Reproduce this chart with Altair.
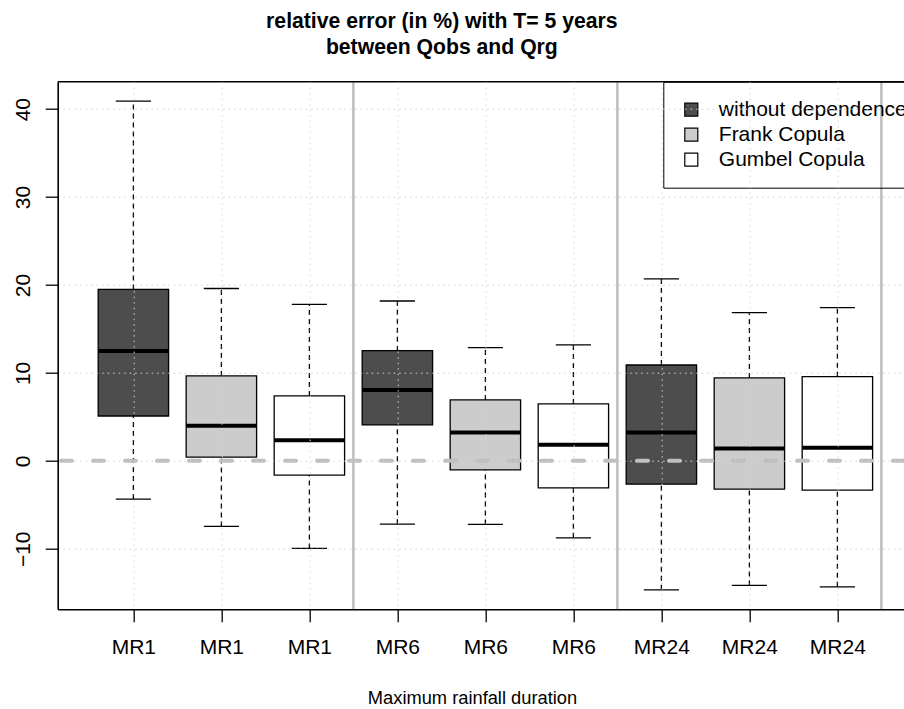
import altair as alt
import pandas as pd

# ---------------- data ----------------
positions = [1, 2, 3, 4, 5, 6, 7, 8, 9]
durations = ["MR1", "MR1", "MR1", "MR6", "MR6", "MR6", "MR24", "MR24", "MR24"]
methods = ["without dependence", "Frank Copula", "Gumbel Copula"] * 3
whisker_low = [-4.35, -7.46, -9.96, -7.20, -7.23, -8.75, -14.66, -14.17, -14.32]
q1 = [5.10, 0.42, -1.63, 4.09, -1.02, -3.07, -2.65, -3.22, -3.33]
median = [12.50, 3.98, 2.35, 8.07, 3.22, 1.82, 3.22, 1.40, 1.48]
q3 = [19.50, 9.66, 7.39, 12.53, 6.93, 6.48, 10.90, 9.43, 9.58]
whisker_high = [40.90, 19.60, 17.80, 18.18, 12.88, 13.18, 20.70, 16.86, 17.42]

y_ticks = [-10, 0, 10, 20, 30, 40]
separators = [3.5, 6.5, 9.5]
zero_line = [0]
method_names = ["without dependence", "Frank Copula", "Gumbel Copula"]
method_fills = ["#4D4D4D", "#CCCCCC", "#FFFFFF"]

title_lines = ["relative error (in %) with T= 5 years", "between Qobs and Qrg"]
x_title = "Maximum rainfall duration"

FONT = "Liberation Sans"

df = pd.DataFrame({
    "pos": positions, "duration": durations, "method": methods,
    "lo": whisker_low, "q1": q1, "med": median, "q3": q3, "hi": whisker_high,
})
sep_df = pd.DataFrame({"x": separators})
zero_df = pd.DataFrame({"y": zero_line})

label_expr = "[" + ",".join("'%s'" % d for d in durations) + "][datum.value - 1]"

xscale = alt.Scale(domain=[0.14, 9.757], nice=False, zero=False)
yscale = alt.Scale(domain=[-16.88, 43.12], nice=False, zero=False)

x_axis = alt.Axis(
    values=positions, labelExpr=label_expr, title=x_title,
    tickSize=12.5, tickWidth=1.3, tickColor="black",
    domainColor="black", domainWidth=1.6,
    labelFont=FONT, labelFontSize=21, labelColor="black",
    labelBaseline="alphabetic", labelPadding=31.5, labelFlush=False, labelOverlap=False,
    grid=True, gridColor="#D3D3D3", gridDash=[1.5, 4], gridWidth=1,
    titleFont=FONT, titleFontSize=18.3, titleFontWeight="normal", titleColor="black",
    titleBaseline="alphabetic", titleAlign="center", titleAnchor="middle",
    titleX=414.3, titleY=94, zindex=1,
)
y_axis = alt.Axis(
    values=y_ticks, title="",
    tickSize=12.5, tickWidth=1.3, tickColor="black",
    domainColor="black", domainWidth=1.6,
    labelFont=FONT, labelFontSize=21, labelColor="black",
    labelAngle=270, labelAlign="center", labelBaseline="alphabetic",
    labelPadding=15.5, labelFlush=False, labelOverlap=False,
    grid=True, gridColor="#D3D3D3", gridDash=[1.5, 4], gridWidth=1,
    zindex=1,
)


def X(field):
    return alt.X(field, type="quantitative", scale=xscale, axis=x_axis)


def Y(field):
    return alt.Y(field, type="quantitative", scale=yscale, axis=y_axis)


base = alt.Chart(df).transform_calculate(
    left="datum.pos - 0.4", right="datum.pos + 0.4",
    capl="datum.pos - 0.2", capr="datum.pos + 0.2",
)

boxes = base.mark_rect(stroke="black", strokeWidth=1.3).encode(
    x=X("left"), x2="right", y=Y("q1"), y2="q3",
    fill=alt.Fill("method:N",
                  scale=alt.Scale(domain=method_names, range=method_fills),
                  legend=alt.Legend(
                      title=None, orient="none", legendX=605.6, legendY=0,
                      padding=17.5, strokeColor="black",
                      symbolType="square", symbolSize=169,
                      symbolStrokeColor="black", symbolStrokeWidth=1.2,
                      labelFont=FONT, labelFontSize=21, labelColor="black",
                      labelOffset=17, rowPadding=3, labelLimit=400,
                  )),
)

whisk_hi = base.mark_rule(color="black", strokeWidth=1.3, strokeDash=[5, 4]).encode(
    x=X("pos"), y=Y("q3"), y2="hi")
whisk_lo = base.mark_rule(color="black", strokeWidth=1.3, strokeDash=[5, 4]).encode(
    x=X("pos"), y=Y("lo"), y2="q1")
cap_hi = base.mark_rule(color="black", strokeWidth=1.3).encode(
    x=X("capl"), x2="capr", y=Y("hi"))
cap_lo = base.mark_rule(color="black", strokeWidth=1.3).encode(
    x=X("capl"), x2="capr", y=Y("lo"))
medians = base.mark_rule(color="black", strokeWidth=4).encode(
    x=X("left"), x2="right", y=Y("med"))

zero = alt.Chart(zero_df).mark_rule(
    color="#BEBEBE", strokeWidth=4, strokeDash=[11, 21], strokeCap="round"
).encode(y=Y("y"))

seps = alt.Chart(sep_df).mark_rule(color="#BEBEBE", strokeWidth=2.5).encode(
    x=X("x"))

top_border = alt.Chart(zero_df).mark_rule(color="black", strokeWidth=1.6).encode(
    x=alt.value(0), x2=alt.value("width"), y=alt.value(0))

chart = alt.layer(
    boxes, whisk_hi, whisk_lo, cap_hi, cap_lo, medians, zero, seps, top_border
).properties(
    width=846.3, height=527.6,
    padding={"left": 57.7, "top": 81.7, "right": 0, "bottom": 99.7},
    autosize=alt.AutoSizeParams(type="none"),
    title=alt.TitleParams(
        text=title_lines, font=FONT, fontSize=21.2, fontWeight="bold",
        color="black", anchor="middle", lineHeight=26.3,
        baseline="bottom", offset=1, dx=-39,
    ),
    background="white",
).configure_view(stroke="transparent")

chart.save("out.html", embed_options={"renderer": "svg", "actions": False})
